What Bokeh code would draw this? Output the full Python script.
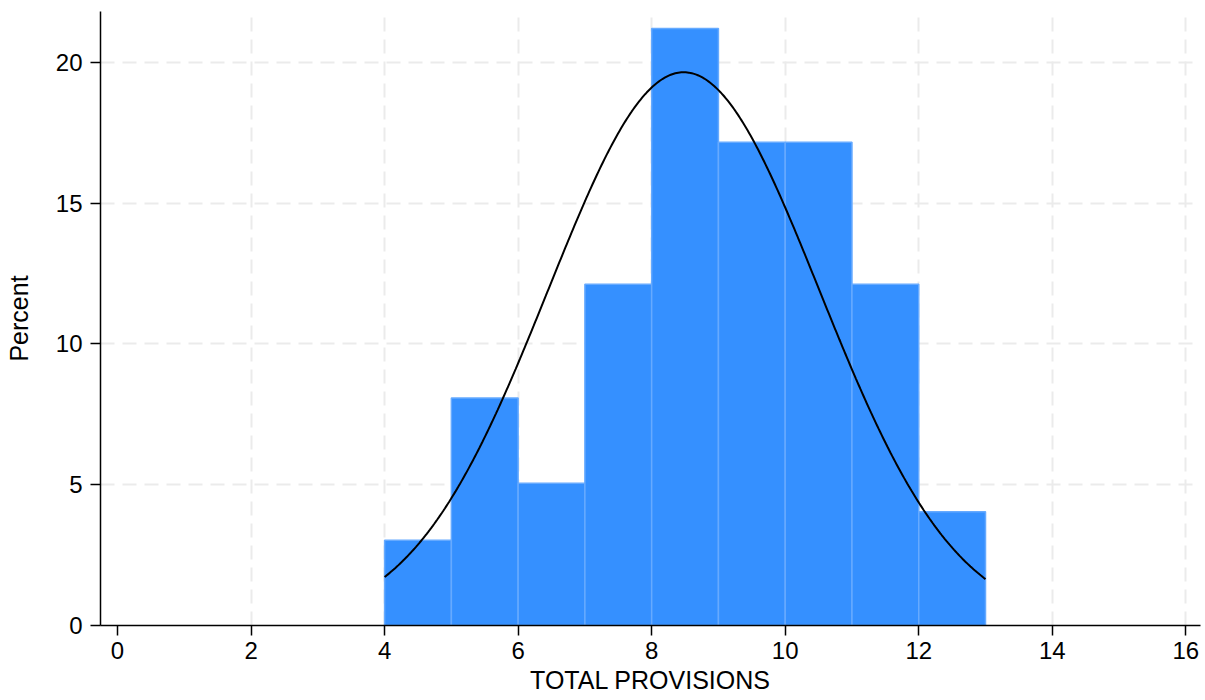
import numpy as np
from bokeh.plotting import figure
from bokeh.models import ColumnDataSource, FixedTicker, Range1d
from bokeh.embed import file_html
from bokeh.resources import INLINE

# Histogram bins (TOTAL PROVISIONS) and percent heights
bin_left = [4, 5, 6, 7, 8, 9, 10, 11, 12]
bin_right = [5, 6, 7, 8, 9, 10, 11, 12, 13]
percent = [3.03, 8.08, 5.05, 12.12, 21.21, 17.17, 17.17, 12.12, 4.04]

# Fitted normal density parameters
fit_mean = 8.48
fit_sd = 2.03
bin_width = 1.0

x_ticks = [0, 2, 4, 6, 8, 10, 12, 14, 16]
y_ticks = [0, 5, 10, 15, 20]

FONT = "Liberation Sans"

p = figure(width=1205, height=700, output_backend="svg", toolbar_location=None,
           x_range=Range1d(-0.255, 16.22), y_range=Range1d(0, 21.81),
           min_border_left=100, min_border_right=5, min_border_top=11, min_border_bottom=75)
p.frame_width = 1100
p.frame_height = 614
p.outline_line_color = None
p.background_fill_color = "white"
p.border_fill_color = "white"

src = ColumnDataSource(dict(left=bin_left, right=bin_right, top=percent, bottom=[0] * len(percent)))
p.quad(left="left", right="right", top="top", bottom="bottom", source=src,
       fill_color="#3590ff", line_color="#66aaff", line_width=1.5)

xs = np.linspace(min(bin_left), max(bin_right), 400)
ys = 100 * bin_width * np.exp(-0.5 * ((xs - fit_mean) / fit_sd) ** 2) / (fit_sd * np.sqrt(2 * np.pi))
p.line(xs, ys, line_color="black", line_width=2)

# grids
p.xgrid.ticker = FixedTicker(ticks=[t for t in x_ticks if t != 0])
p.ygrid.ticker = FixedTicker(ticks=[t for t in y_ticks if t != 0])
for g in (p.xgrid, p.ygrid):
    g.grid_line_color = "#ebebeb"
    g.grid_line_dash = "14 8"
    g.grid_line_width = 2
    g.level = "underlay"

p.xaxis.ticker = FixedTicker(ticks=x_ticks)
p.yaxis.ticker = FixedTicker(ticks=y_ticks)
p.xaxis.axis_label = "TOTAL PROVISIONS"
p.yaxis.axis_label = "Percent"
for ax in (p.xaxis, p.yaxis):
    ax.axis_line_color = "black"
    ax.axis_line_width = 1.5
    ax.major_tick_line_color = "black"
    ax.major_tick_line_width = 1.5
    ax.major_tick_out = 10
    ax.major_tick_in = 0
    ax.minor_tick_line_color = None
    ax.major_label_text_font = FONT
    ax.major_label_text_font_size = "24px"
    ax.major_label_text_color = "black"
    ax.axis_label_text_font = FONT
    ax.axis_label_text_font_size = "25px"
    ax.axis_label_text_font_style = "normal"
    ax.axis_label_text_color = "black"
p.xaxis.major_label_standoff = 6
p.yaxis.major_label_standoff = 8
p.xaxis.axis_label_standoff = 4
p.yaxis.axis_label_standoff = 20

open("out.html", "w").write(file_html(p, INLINE))
